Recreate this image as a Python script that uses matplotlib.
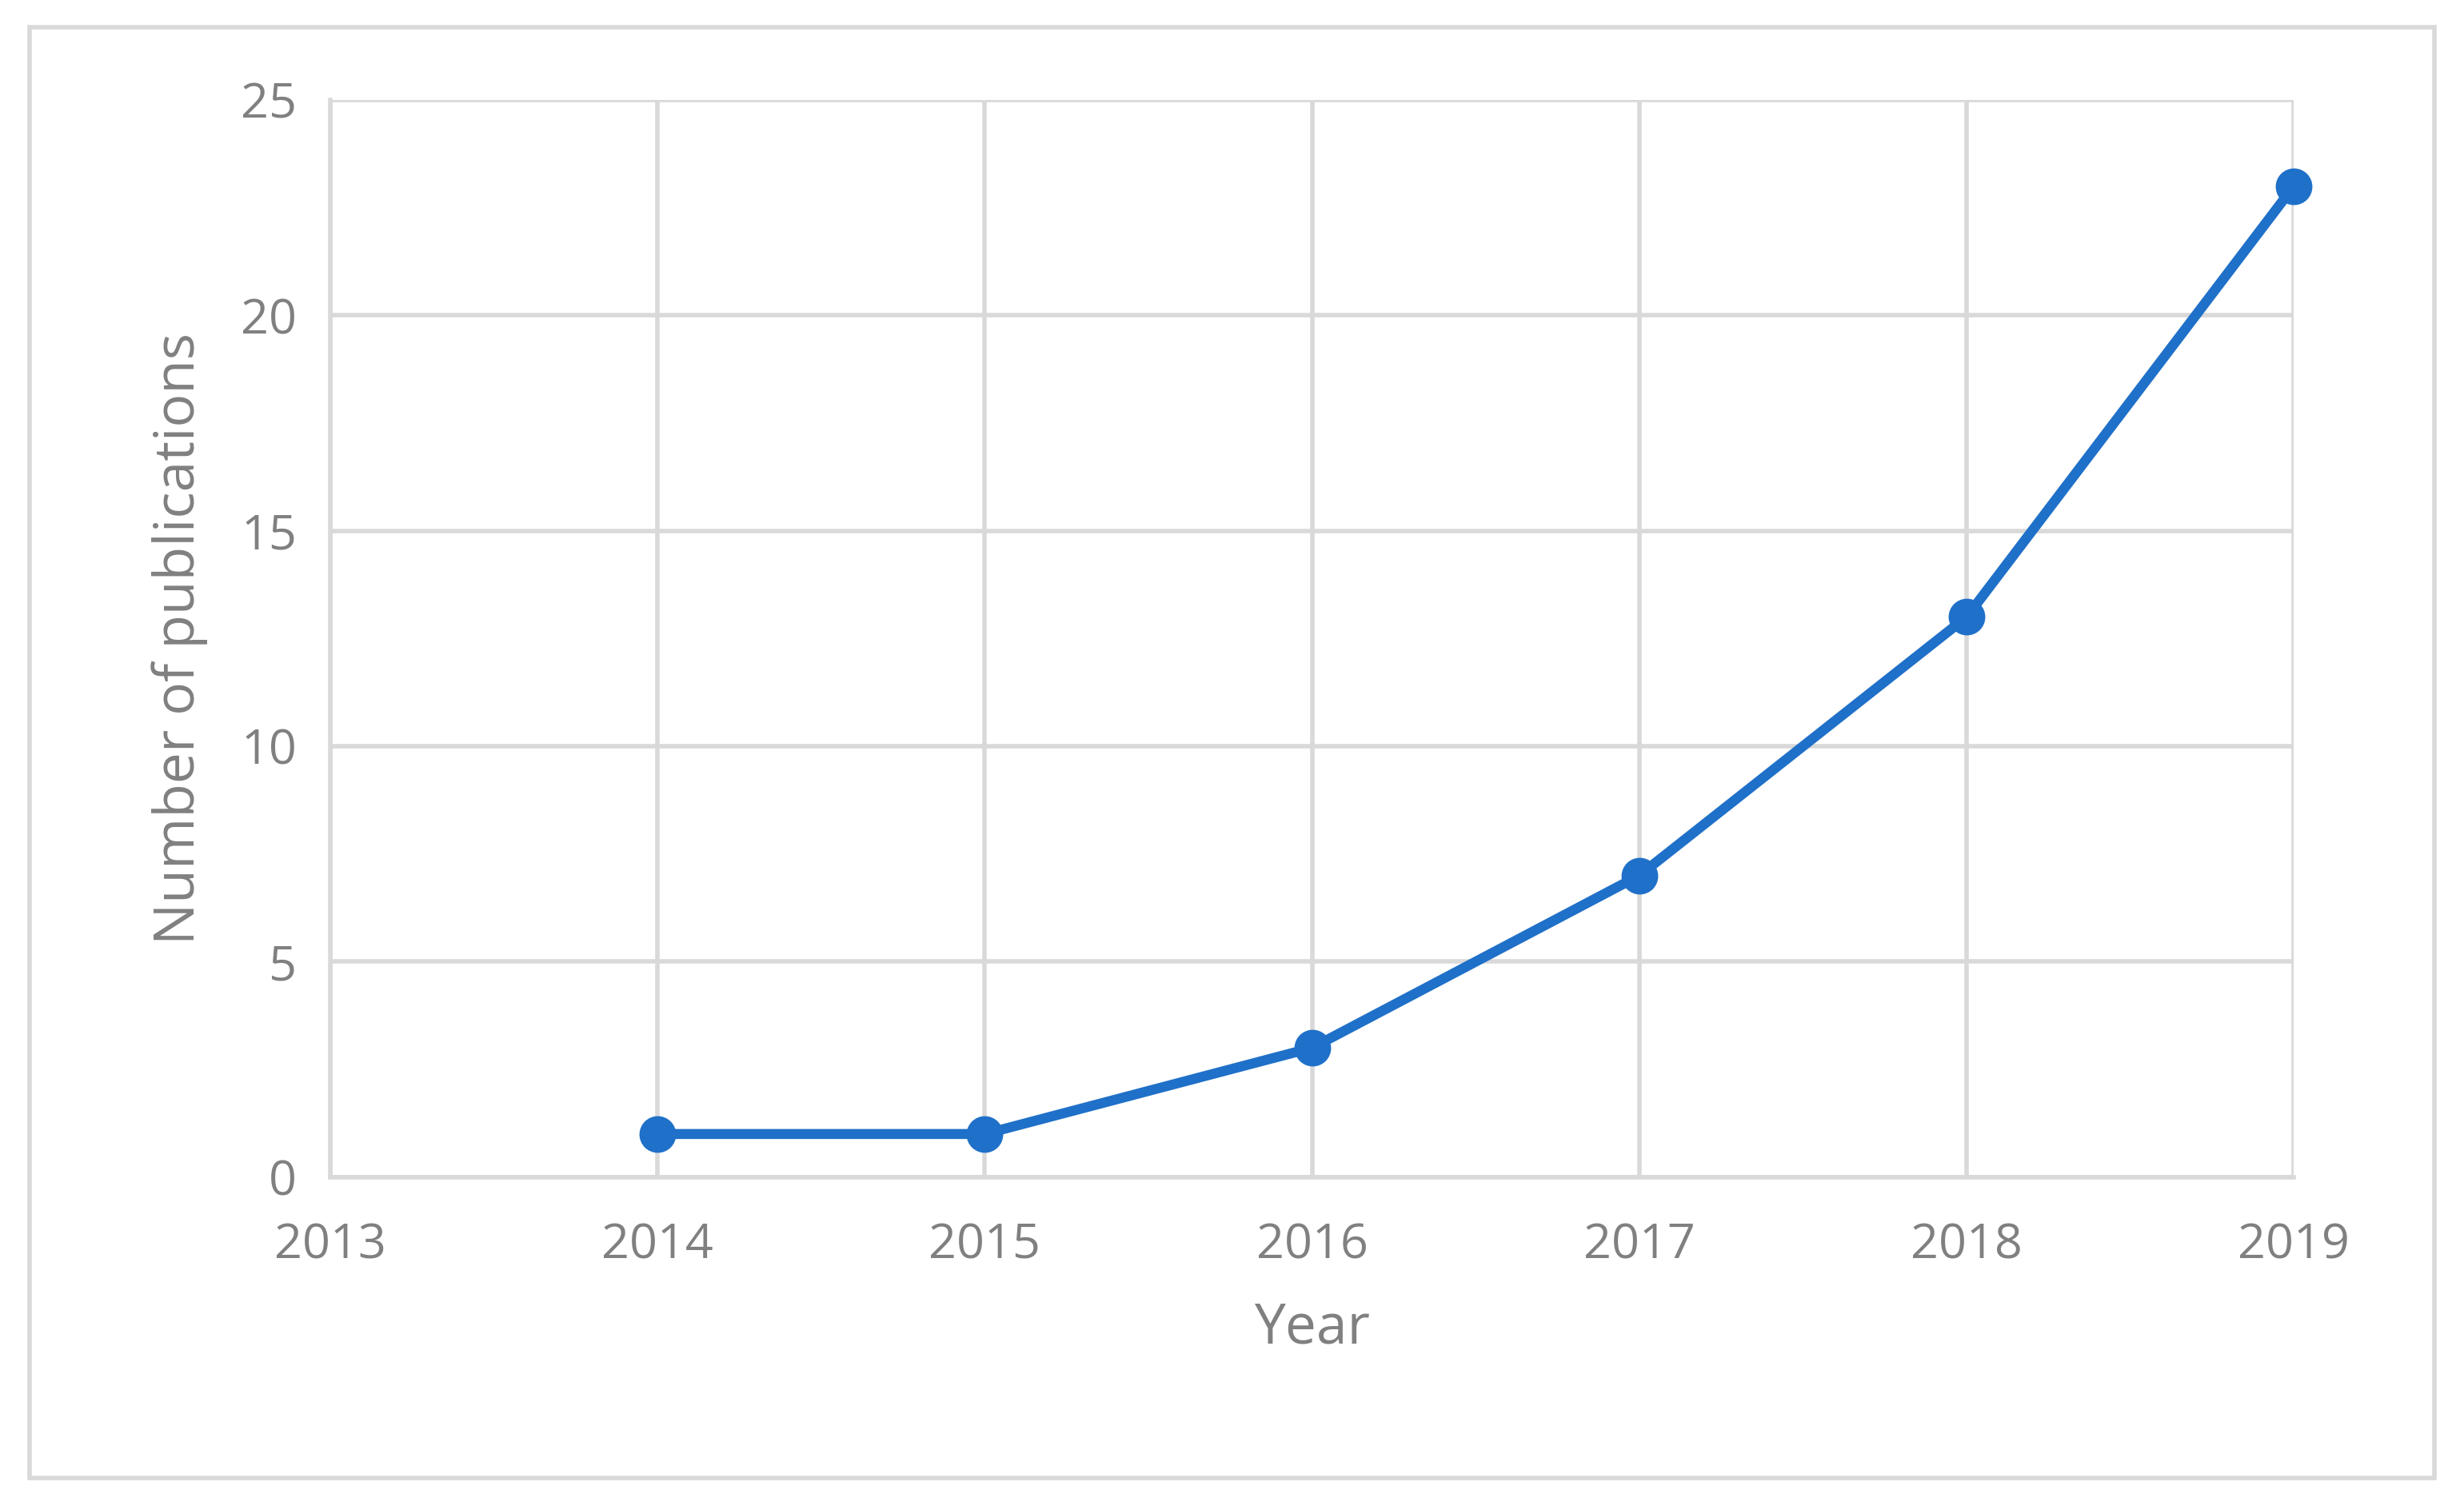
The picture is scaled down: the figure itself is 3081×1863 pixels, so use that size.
import matplotlib.pyplot as plt
from matplotlib.patches import Rectangle

years = [2014, 2015, 2016, 2017, 2018, 2019]
publications = [1, 1, 3, 7, 13, 23]
x_ticks = [2013, 2014, 2015, 2016, 2017, 2018, 2019]
y_ticks = [0, 5, 10, 15, 20, 25]

gray = '#808080'
grid_gray = '#d9d9d9'
blue = '#1f70c8'

plt.rcParams['font.family'] = ['Open Sans', 'DejaVu Sans']

fig = plt.figure(figsize=(30.81, 18.63), dpi=100)
fig.patches.append(Rectangle((0.012, 0.008), 0.976, 0.974, transform=fig.transFigure,
                             fill=False, edgecolor=grid_gray, linewidth=4))
ax = fig.add_axes([0.134, 0.210, 0.797, 0.723])

ax.plot(years, publications, color=blue, linewidth=9, marker='o', markersize=32,
        clip_on=False, zorder=3)

ax.set_xlim(2013, 2019)
ax.set_ylim(0, 25)
ax.set_xticks(x_ticks)
ax.set_yticks(y_ticks)
ax.grid(True, color=grid_gray, linewidth=4)
ax.set_axisbelow(True)
for s in ['top', 'right']:
    ax.spines[s].set_visible(False)
for s in ['left', 'bottom']:
    ax.spines[s].set_color(grid_gray)
    ax.spines[s].set_linewidth(4)
ax.tick_params(axis='x', pad=40)
ax.tick_params(axis='y', pad=30)
ax.tick_params(length=0, labelsize=44, labelcolor=gray)
ax.set_xlabel('Year', fontsize=50, color=gray, labelpad=28)
ax.set_ylabel('Number of publications', fontsize=50, color=gray, labelpad=30)

fig.savefig('out.png', dpi=100)
